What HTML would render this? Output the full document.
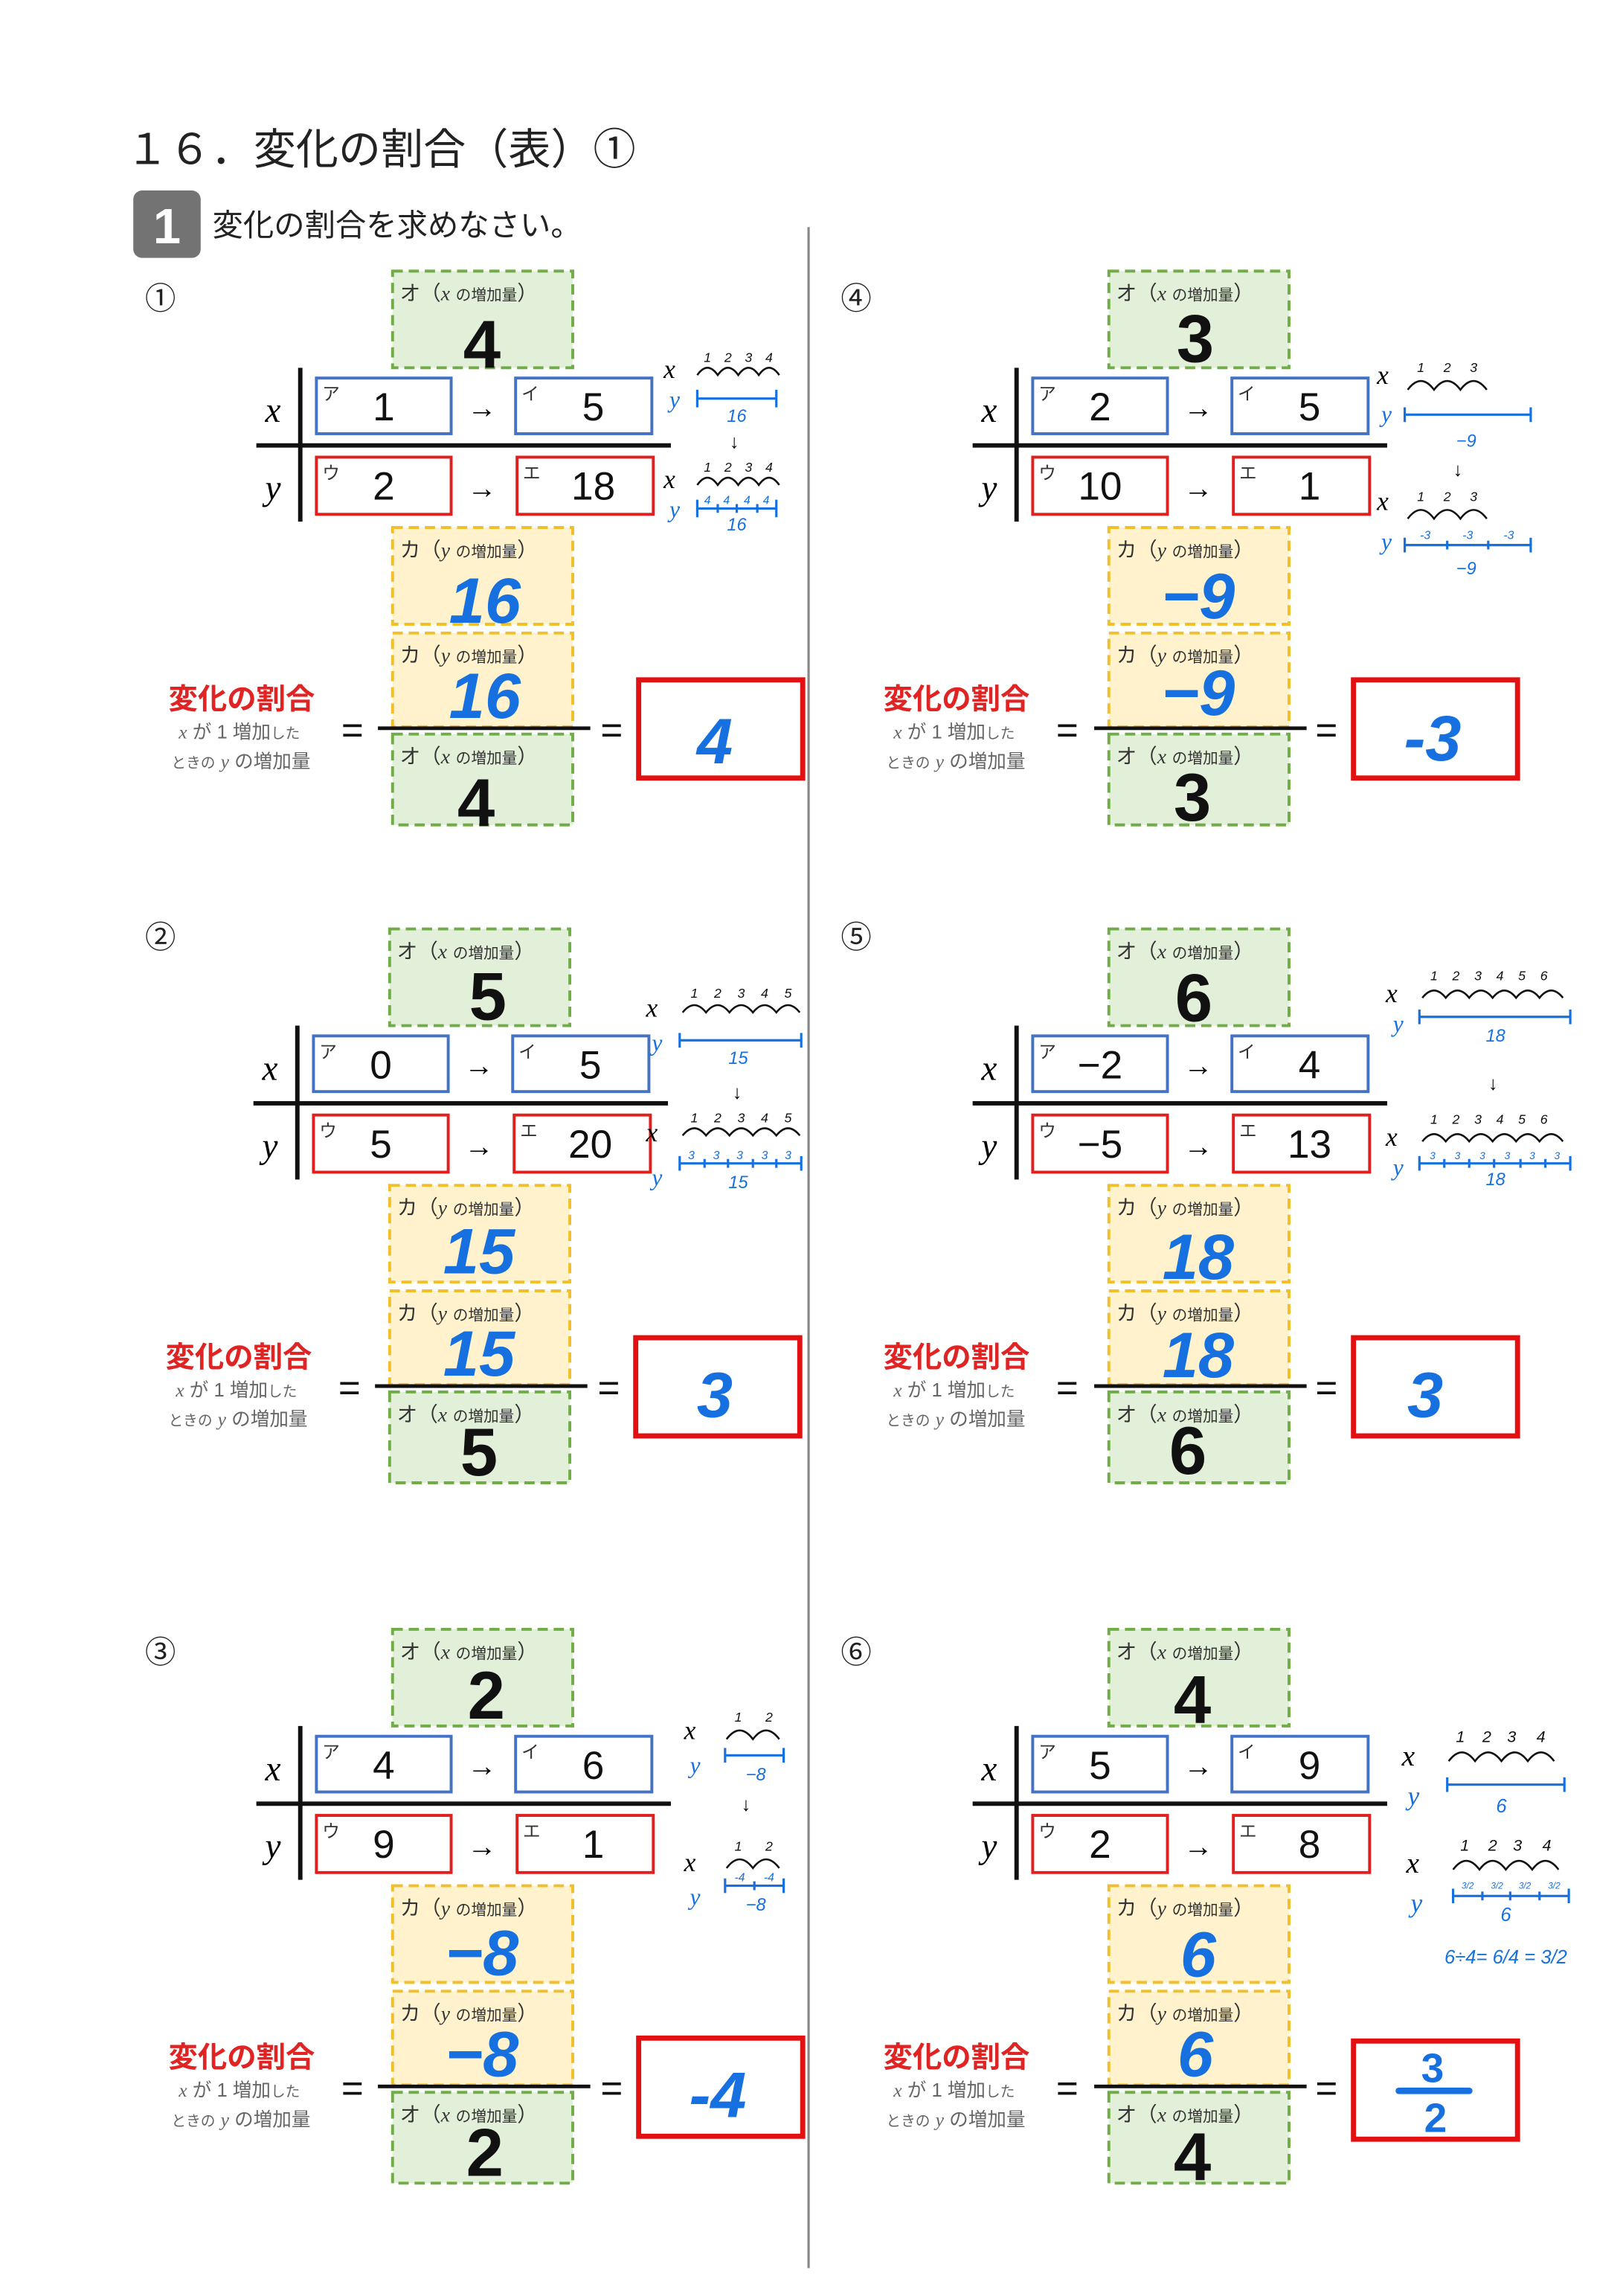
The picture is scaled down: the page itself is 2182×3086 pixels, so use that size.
<!DOCTYPE html>
<html><head><meta charset="utf-8"><style>
html,body{margin:0;padding:0;background:#fff}
svg{display:block;font-size:12px}
text{font-family:"Liberation Sans","Noto Sans CJK JP",sans-serif}
.it{font-family:"Liberation Serif","Noto Serif CJK SC",serif;font-style:italic}
.g{fill:#e2efd9;stroke:#70ad47;stroke-width:2;stroke-dasharray:7,4}
.yb{fill:#fff2cc;stroke:#f1bf2a;stroke-width:2;stroke-dasharray:7,4}
.bl{fill:#fff;stroke:#4472c4;stroke-width:2}
.rd{fill:#fff;stroke:#e21f1f;stroke-width:2}
.ans{fill:#fff;stroke:#e21010;stroke-width:3.5}
.hb{font-weight:bold;font-size:46px;fill:#111;text-anchor:middle}
.hu{font-weight:bold;fill:#1670e0;text-anchor:middle;font-style:italic}
.hu:not([font-size]){font-size:44px}
.lab{font-size:14px;fill:#333}
.sm{font-size:10.5px}
.val{font-size:27px;fill:#111;text-anchor:middle}
.kn{font-size:12px;fill:#333}
.red{font-size:20px;fill:#e02424;font-weight:bold}
.sub{font-size:13px;fill:#666}
.eq{font-size:26px;fill:#111}
.ln{stroke:#111;stroke-width:3}
.bline{stroke:#1670e0;stroke-width:1.6;fill:none}
.arc{stroke:#111;stroke-width:1.3;fill:none}
.bt{fill:#1670e0;font-style:italic;text-anchor:middle}
.kt{fill:#111;font-style:italic;text-anchor:middle}
.kt:not([font-size]){font-size:9px}
</style></head><body>
<svg width="2182" height="3086" viewBox="0 0 1108 1567" xmlns="http://www.w3.org/2000/svg">
<text x="86" y="112" font-size="29" fill="#222">１６．変化の割合（表）①</text>
<rect x="91" y="130" width="46" height="46" rx="6" fill="#737373"/>
<text x="114" y="166" font-size="34" font-weight="bold" fill="#fff" text-anchor="middle">1</text>
<text x="145" y="161" font-size="21" fill="#222">変化の割合を求めなさい。</text>
<line x1="552" y1="155" x2="552" y2="1548" stroke="#888" stroke-width="1.6"/>

<!-- PANEL 1 -->
<g transform="translate(0,0)">
<text x="99" y="211" font-size="21" fill="#222">①</text>
<rect class="g" x="268" y="185" width="123" height="66"/>
<text class="lab" x="273" y="205">オ（<tspan class="it">x</tspan> <tspan class="sm">の増加量</tspan>）</text>
<text class="hb" x="329" y="251">4</text>
<line class="ln" x1="205" y1="251" x2="205" y2="356"/><line class="ln" x1="175" y1="304" x2="458" y2="304"/>
<text class="it" x="181" y="288" font-size="24">x</text><text class="it" x="181" y="341" font-size="24">y</text>
<rect class="bl" x="216" y="258" width="92" height="38"/><text class="kn" x="220" y="273">ア</text><text class="val" x="262" y="287">1</text>
<text x="319" y="285" font-size="20">→</text>
<rect class="bl" x="352" y="258" width="93" height="38"/><text class="kn" x="356" y="273">イ</text><text class="val" x="405" y="287">5</text>
<rect class="rd" x="216" y="312" width="92" height="39"/><text class="kn" x="220" y="327">ウ</text><text class="val" x="262" y="341">2</text>
<text x="319" y="340" font-size="20">→</text>
<rect class="rd" x="353" y="312" width="93" height="39"/><text class="kn" x="357" y="327">エ</text><text class="val" x="405" y="341">18</text>
<rect class="yb" x="268" y="360" width="123" height="66"/>
<text class="lab" x="273" y="380">カ（<tspan class="it">y</tspan> <tspan class="sm">の増加量</tspan>）</text>
<text class="hu" x="331" y="425">16</text>
<rect class="yb" x="268" y="432" width="123" height="64"/>
<text class="lab" x="273" y="452">カ（<tspan class="it">y</tspan> <tspan class="sm">の増加量</tspan>）</text>
<text class="hu" x="331" y="490">16</text>
<line x1="258" y1="497" x2="403" y2="497" stroke="#111" stroke-width="2.5"/>
<rect class="g" x="268" y="501" width="123" height="62"/>
<text class="lab" x="273" y="521">オ（<tspan class="it">x</tspan> <tspan class="sm">の増加量</tspan>）</text>
<text class="hb" x="325" y="564">4</text>
<text class="red" x="115" y="484">変化の割合</text>
<text class="sub" x="122" y="504"><tspan class="it">x</tspan> が 1 増加<tspan font-size="10">した</tspan></text>
<text class="sub" x="117" y="524"><tspan font-size="10">ときの</tspan> <tspan class="it">y</tspan> の増加量</text>
<text class="eq" x="233" y="507">=</text><text class="eq" x="410" y="507">=</text>
<rect class="ans" x="436" y="464" width="112" height="67"/>
<text class="hu" x="488" y="521">4</text>
<text class="it" x="453" y="258" font-size="18">x</text>
<path class="arc" d="M476 256 q7-10 14 0 q7-10 14 0 q7-10 14 0 q7-10 14 0"/>
<text class="kt" x="483" y="247">1</text><text class="kt" x="497" y="247">2</text><text class="kt" x="511" y="247">3</text><text class="kt" x="525" y="247">4</text>
<text class="it" x="457" y="278" font-size="16" fill="#1670e0">y</text>
<path class="bline" d="M476 266 v12 M476 272 H530 M530 266 v12"/><text class="bt" x="503" y="288">16</text>
<text x="498" y="306" font-size="13">↓</text>
<text class="it" x="453" y="333" font-size="18">x</text>
<path class="arc" d="M476 331 q7-10 14 0 q7-10 14 0 q7-10 14 0 q7-10 14 0"/>
<text class="kt" x="483" y="322">1</text><text class="kt" x="497" y="322">2</text><text class="kt" x="511" y="322">3</text><text class="kt" x="525" y="322">4</text>
<text class="it" x="457" y="353" font-size="16" fill="#1670e0">y</text>
<path class="bline" d="M476 341 v12 M476 347 H530 M530 341 v12 M490 344 v6 M503 344 v6 M517 344 v6"/>
<text class="bt" x="483" y="344" font-size="8">4</text><text class="bt" x="496" y="344" font-size="8">4</text><text class="bt" x="510" y="344" font-size="8">4</text><text class="bt" x="523" y="344" font-size="8">4</text>
<text class="bt" x="503" y="362">16</text>
</g>

<!-- PANEL 4 -->
<g transform="translate(489,0)">
<text x="85" y="211" font-size="21" fill="#222">④</text>
<rect class="g" x="268" y="185" width="123" height="66"/>
<text class="lab" x="273" y="205">オ（<tspan class="it">x</tspan> <tspan class="sm">の増加量</tspan>）</text>
<text class="hb" x="327" y="247">3</text>
<line class="ln" x1="205" y1="251" x2="205" y2="356"/><line class="ln" x1="175" y1="304" x2="458" y2="304"/>
<text class="it" x="181" y="288" font-size="24">x</text><text class="it" x="181" y="341" font-size="24">y</text>
<rect class="bl" x="216" y="258" width="92" height="38"/><text class="kn" x="220" y="273">ア</text><text class="val" x="262" y="287">2</text>
<text x="319" y="285" font-size="20">→</text>
<rect class="bl" x="352" y="258" width="93" height="38"/><text class="kn" x="356" y="273">イ</text><text class="val" x="405" y="287">5</text>
<rect class="rd" x="216" y="312" width="92" height="39"/><text class="kn" x="220" y="327">ウ</text><text class="val" x="262" y="341">10</text>
<text x="319" y="340" font-size="20">→</text>
<rect class="rd" x="353" y="312" width="93" height="39"/><text class="kn" x="357" y="327">エ</text><text class="val" x="405" y="341">1</text>
<rect class="yb" x="268" y="360" width="123" height="66"/>
<text class="lab" x="273" y="380">カ（<tspan class="it">y</tspan> <tspan class="sm">の増加量</tspan>）</text>
<text class="hu" x="329" y="422">−9</text>
<rect class="yb" x="268" y="432" width="123" height="64"/>
<text class="lab" x="273" y="452">カ（<tspan class="it">y</tspan> <tspan class="sm">の増加量</tspan>）</text>
<text class="hu" x="329" y="488">−9</text>
<line x1="258" y1="497" x2="403" y2="497" stroke="#111" stroke-width="2.5"/>
<rect class="g" x="268" y="501" width="123" height="62"/>
<text class="lab" x="273" y="521">オ（<tspan class="it">x</tspan> <tspan class="sm">の増加量</tspan>）</text>
<text class="hb" x="325" y="560">3</text>
<text class="red" x="114" y="484">変化の割合</text>
<text class="sub" x="121" y="504"><tspan class="it">x</tspan> が 1 増加<tspan font-size="10">した</tspan></text>
<text class="sub" x="116" y="524"><tspan font-size="10">ときの</tspan> <tspan class="it">y</tspan> の増加量</text>
<text class="eq" x="232" y="507">=</text><text class="eq" x="409" y="507">=</text>
<rect class="ans" x="435" y="464" width="112" height="67"/>
<text class="hu" x="489" y="519">-3</text>
<text class="it" x="451" y="262" font-size="18">x</text>
<path class="arc" d="M472 266 q9-12 18 0 q9-12 18 0 q9-12 18 0"/>
<text class="kt" x="481" y="254">1</text><text class="kt" x="499" y="254">2</text><text class="kt" x="517" y="254">3</text>
<text class="it" x="454" y="288" font-size="16" fill="#1670e0">y</text>
<path class="bline" d="M470 278 v10 M470 283 H556 M556 278 v10"/><text class="bt" x="512" y="305">−9</text>
<text x="503" y="325" font-size="13">↓</text>
<text class="it" x="451" y="348" font-size="18">x</text>
<path class="arc" d="M472 354 q9-12 18 0 q9-12 18 0 q9-12 18 0"/>
<text class="kt" x="481" y="342">1</text><text class="kt" x="499" y="342">2</text><text class="kt" x="517" y="342">3</text>
<text class="it" x="454" y="375" font-size="16" fill="#1670e0">y</text>
<path class="bline" d="M470 367 v10 M470 372 H556 M556 367 v10 M499 369 v6 M527 369 v6"/>
<text class="bt" x="484" y="368" font-size="8">-3</text><text class="bt" x="513" y="368" font-size="8">-3</text><text class="bt" x="541" y="368" font-size="8">-3</text>
<text class="bt" x="512" y="392">−9</text>
</g>

<!-- PANEL 2 -->
<g transform="translate(-2,449)">
<text x="101" y="198" font-size="21" fill="#222">②</text>
<rect class="g" x="268" y="185" width="123" height="66"/>
<text class="lab" x="273" y="205">オ（<tspan class="it">x</tspan> <tspan class="sm">の増加量</tspan>）</text>
<text class="hb" x="335" y="247">5</text>
<line class="ln" x1="205" y1="251" x2="205" y2="356"/><line class="ln" x1="175" y1="304" x2="458" y2="304"/>
<text class="it" x="181" y="288" font-size="24">x</text><text class="it" x="181" y="341" font-size="24">y</text>
<rect class="bl" x="216" y="258" width="92" height="38"/><text class="kn" x="220" y="273">ア</text><text class="val" x="262" y="287">0</text>
<text x="319" y="285" font-size="20">→</text>
<rect class="bl" x="352" y="258" width="93" height="38"/><text class="kn" x="356" y="273">イ</text><text class="val" x="405" y="287">5</text>
<rect class="rd" x="216" y="312" width="92" height="39"/><text class="kn" x="220" y="327">ウ</text><text class="val" x="262" y="341">5</text>
<text x="319" y="340" font-size="20">→</text>
<rect class="rd" x="353" y="312" width="93" height="39"/><text class="kn" x="357" y="327">エ</text><text class="val" x="405" y="341">20</text>
<rect class="yb" x="268" y="360" width="123" height="66"/>
<text class="lab" x="273" y="380">カ（<tspan class="it">y</tspan> <tspan class="sm">の増加量</tspan>）</text>
<text class="hu" x="329" y="420">15</text>
<rect class="yb" x="268" y="432" width="123" height="64"/>
<text class="lab" x="273" y="452">カ（<tspan class="it">y</tspan> <tspan class="sm">の増加量</tspan>）</text>
<text class="hu" x="329" y="490">15</text>
<line x1="258" y1="497" x2="403" y2="497" stroke="#111" stroke-width="2.5"/>
<rect class="g" x="268" y="501" width="123" height="62"/>
<text class="lab" x="273" y="521">オ（<tspan class="it">x</tspan> <tspan class="sm">の増加量</tspan>）</text>
<text class="hb" x="329" y="558">5</text>
<text class="red" x="115" y="484">変化の割合</text>
<text class="sub" x="122" y="504"><tspan class="it">x</tspan> が 1 増加<tspan font-size="10">した</tspan></text>
<text class="sub" x="117" y="524"><tspan font-size="10">ときの</tspan> <tspan class="it">y</tspan> の増加量</text>
<text class="eq" x="233" y="507">=</text><text class="eq" x="410" y="507">=</text>
<rect class="ans" x="436" y="464" width="112" height="67"/>
<text class="hu" x="490" y="518">3</text>
<text class="it" x="443" y="245" font-size="18">x</text>
<path class="arc" d="M468 242 q8-10 16 0 q8-10 16 0 q8-10 16 0 q8-10 16 0 q8-10 16 0"/>
<text class="kt" x="476" y="232">1</text><text class="kt" x="492" y="232">2</text><text class="kt" x="508" y="232">3</text><text class="kt" x="524" y="232">4</text><text class="kt" x="540" y="232">5</text>
<text class="it" x="447" y="268" font-size="16" fill="#1670e0">y</text>
<path class="bline" d="M466 256 v10 M466 261 H549 M549 256 v10"/><text class="bt" x="506" y="277">15</text>
<text x="502" y="301" font-size="13">↓</text>
<text class="it" x="443" y="330" font-size="18">x</text>
<path class="arc" d="M468 326 q8-10 16 0 q8-10 16 0 q8-10 16 0 q8-10 16 0 q8-10 16 0"/>
<text class="kt" x="476" y="317">1</text><text class="kt" x="492" y="317">2</text><text class="kt" x="508" y="317">3</text><text class="kt" x="524" y="317">4</text><text class="kt" x="540" y="317">5</text>
<text class="it" x="447" y="360" font-size="16" fill="#1670e0">y</text>
<path class="bline" d="M466 340 v10 M466 345 H549 M549 340 v10 M483 342 v6 M499 342 v6 M516 342 v6 M532 342 v6"/>
<text class="bt" x="474" y="342" font-size="8">3</text><text class="bt" x="491" y="342" font-size="8">3</text><text class="bt" x="507" y="342" font-size="8">3</text><text class="bt" x="524" y="342" font-size="8">3</text><text class="bt" x="540" y="342" font-size="8">3</text>
<text class="bt" x="506" y="362">15</text>
</g>

<!-- PANEL 5 -->
<g transform="translate(489,449)">
<text x="85" y="198" font-size="21" fill="#222">⑤</text>
<rect class="g" x="268" y="185" width="123" height="66"/>
<text class="lab" x="273" y="205">オ（<tspan class="it">x</tspan> <tspan class="sm">の増加量</tspan>）</text>
<text class="hb" x="326" y="248">6</text>
<line class="ln" x1="205" y1="251" x2="205" y2="356"/><line class="ln" x1="175" y1="304" x2="458" y2="304"/>
<text class="it" x="181" y="288" font-size="24">x</text><text class="it" x="181" y="341" font-size="24">y</text>
<rect class="bl" x="216" y="258" width="92" height="38"/><text class="kn" x="220" y="273">ア</text><text class="val" x="262" y="287">−2</text>
<text x="319" y="285" font-size="20">→</text>
<rect class="bl" x="352" y="258" width="93" height="38"/><text class="kn" x="356" y="273">イ</text><text class="val" x="405" y="287">4</text>
<rect class="rd" x="216" y="312" width="92" height="39"/><text class="kn" x="220" y="327">ウ</text><text class="val" x="262" y="341">−5</text>
<text x="319" y="340" font-size="20">→</text>
<rect class="rd" x="353" y="312" width="93" height="39"/><text class="kn" x="357" y="327">エ</text><text class="val" x="405" y="341">13</text>
<rect class="yb" x="268" y="360" width="123" height="66"/>
<text class="lab" x="273" y="380">カ（<tspan class="it">y</tspan> <tspan class="sm">の増加量</tspan>）</text>
<text class="hu" x="329" y="424">18</text>
<rect class="yb" x="268" y="432" width="123" height="64"/>
<text class="lab" x="273" y="452">カ（<tspan class="it">y</tspan> <tspan class="sm">の増加量</tspan>）</text>
<text class="hu" x="329" y="491">18</text>
<line x1="258" y1="497" x2="403" y2="497" stroke="#111" stroke-width="2.5"/>
<rect class="g" x="268" y="501" width="123" height="62"/>
<text class="lab" x="273" y="521">オ（<tspan class="it">x</tspan> <tspan class="sm">の増加量</tspan>）</text>
<text class="hb" x="322" y="557">6</text>
<text class="red" x="114" y="484">変化の割合</text>
<text class="sub" x="121" y="504"><tspan class="it">x</tspan> が 1 増加<tspan font-size="10">した</tspan></text>
<text class="sub" x="116" y="524"><tspan font-size="10">ときの</tspan> <tspan class="it">y</tspan> の増加量</text>
<text class="eq" x="232" y="507">=</text><text class="eq" x="409" y="507">=</text>
<rect class="ans" x="435" y="464" width="112" height="67"/>
<text class="hu" x="484" y="518">3</text>
<text class="it" x="457" y="235" font-size="18">x</text>
<path class="arc" d="M482 232 q8-10 16 0 q8-10 16 0 q8-10 16 0 q8-10 16 0 q8-10 16 0 q8-10 16 0"/>
<text class="kt" x="490" y="220">1</text><text class="kt" x="505" y="220">2</text><text class="kt" x="520" y="220">3</text><text class="kt" x="535" y="220">4</text><text class="kt" x="550" y="220">5</text><text class="kt" x="565" y="220">6</text>
<text class="it" x="462" y="255" font-size="16" fill="#1670e0">y</text>
<path class="bline" d="M480 240 v10 M480 245 H583 M583 240 v10"/><text class="bt" x="532" y="262">18</text>
<text x="527" y="295" font-size="13">↓</text>
<text class="it" x="457" y="333" font-size="18">x</text>
<path class="arc" d="M482 330 q8-10 16 0 q8-10 16 0 q8-10 16 0 q8-10 16 0 q8-10 16 0 q8-10 16 0"/>
<text class="kt" x="490" y="318">1</text><text class="kt" x="505" y="318">2</text><text class="kt" x="520" y="318">3</text><text class="kt" x="535" y="318">4</text><text class="kt" x="550" y="318">5</text><text class="kt" x="565" y="318">6</text>
<text class="it" x="462" y="353" font-size="16" fill="#1670e0">y</text>
<path class="bline" d="M480 340 v10 M480 345 H583 M583 340 v10 M497 342 v6 M514 342 v6 M531 342 v6 M549 342 v6 M566 342 v6"/>
<text class="bt" x="489" y="342" font-size="7">3</text><text class="bt" x="506" y="342" font-size="7">3</text><text class="bt" x="523" y="342" font-size="7">3</text><text class="bt" x="540" y="342" font-size="7">3</text><text class="bt" x="557" y="342" font-size="7">3</text><text class="bt" x="574" y="342" font-size="7">3</text>
<text class="bt" x="532" y="360">18</text>
</g>

<!-- PANEL 3 -->
<g transform="translate(0,927)">
<text x="99" y="208" font-size="21" fill="#222">③</text>
<rect class="g" x="268" y="185" width="123" height="66"/>
<text class="lab" x="273" y="205">オ（<tspan class="it">x</tspan> <tspan class="sm">の増加量</tspan>）</text>
<text class="hb" x="332" y="246">2</text>
<line class="ln" x1="205" y1="251" x2="205" y2="356"/><line class="ln" x1="175" y1="304" x2="458" y2="304"/>
<text class="it" x="181" y="288" font-size="24">x</text><text class="it" x="181" y="341" font-size="24">y</text>
<rect class="bl" x="216" y="258" width="92" height="38"/><text class="kn" x="220" y="273">ア</text><text class="val" x="262" y="287">4</text>
<text x="319" y="285" font-size="20">→</text>
<rect class="bl" x="352" y="258" width="93" height="38"/><text class="kn" x="356" y="273">イ</text><text class="val" x="405" y="287">6</text>
<rect class="rd" x="216" y="312" width="92" height="39"/><text class="kn" x="220" y="327">ウ</text><text class="val" x="262" y="341">9</text>
<text x="319" y="340" font-size="20">→</text>
<rect class="rd" x="353" y="312" width="93" height="39"/><text class="kn" x="357" y="327">エ</text><text class="val" x="405" y="341">1</text>
<rect class="yb" x="268" y="360" width="123" height="66"/>
<text class="lab" x="273" y="380">カ（<tspan class="it">y</tspan> <tspan class="sm">の増加量</tspan>）</text>
<text class="hu" x="329" y="421">−8</text>
<rect class="yb" x="268" y="432" width="123" height="64"/>
<text class="lab" x="273" y="452">カ（<tspan class="it">y</tspan> <tspan class="sm">の増加量</tspan>）</text>
<text class="hu" x="329" y="490">−8</text>
<line x1="258" y1="497" x2="403" y2="497" stroke="#111" stroke-width="2.5"/>
<rect class="g" x="268" y="501" width="123" height="62"/>
<text class="lab" x="273" y="521">オ（<tspan class="it">x</tspan> <tspan class="sm">の増加量</tspan>）</text>
<text class="hb" x="331" y="558">2</text>
<text class="red" x="115" y="484">変化の割合</text>
<text class="sub" x="122" y="504"><tspan class="it">x</tspan> が 1 増加<tspan font-size="10">した</tspan></text>
<text class="sub" x="117" y="524"><tspan font-size="10">ときの</tspan> <tspan class="it">y</tspan> の増加量</text>
<text class="eq" x="233" y="507">=</text><text class="eq" x="410" y="507">=</text>
<rect class="ans" x="436" y="464" width="112" height="67"/>
<text class="hu" x="490" y="518">-4</text>
<text class="it" x="467" y="260" font-size="18">x</text>
<path class="arc" d="M496 260 q9-12 18 0 q9-12 18 0"/>
<text class="kt" x="504" y="248">1</text><text class="kt" x="525" y="248">2</text>
<text class="it" x="471" y="283" font-size="16" fill="#1670e0">y</text>
<path class="bline" d="M495 266 v10 M495 271 H535 M535 266 v10"/><text class="bt" x="516" y="288">−8</text>
<text x="506" y="309" font-size="13">↓</text>
<text class="it" x="467" y="350" font-size="18">x</text>
<path class="arc" d="M496 348 q9-12 18 0 q9-12 18 0"/>
<text class="kt" x="504" y="336">1</text><text class="kt" x="525" y="336">2</text>
<text class="it" x="471" y="373" font-size="16" fill="#1670e0">y</text>
<path class="bline" d="M495 355 v10 M495 360 H535 M535 355 v10 M515 357 v6"/>
<text class="bt" x="505" y="357" font-size="8">-4</text><text class="bt" x="525" y="357" font-size="8">-4</text>
<text class="bt" x="516" y="377">−8</text>
</g>

<!-- PANEL 6 -->
<g transform="translate(489,927)">
<text x="85" y="208" font-size="21" fill="#222">⑥</text>
<rect class="g" x="268" y="185" width="123" height="66"/>
<text class="lab" x="273" y="205">オ（<tspan class="it">x</tspan> <tspan class="sm">の増加量</tspan>）</text>
<text class="hb" x="325" y="249">4</text>
<line class="ln" x1="205" y1="251" x2="205" y2="356"/><line class="ln" x1="175" y1="304" x2="458" y2="304"/>
<text class="it" x="181" y="288" font-size="24">x</text><text class="it" x="181" y="341" font-size="24">y</text>
<rect class="bl" x="216" y="258" width="92" height="38"/><text class="kn" x="220" y="273">ア</text><text class="val" x="262" y="287">5</text>
<text x="319" y="285" font-size="20">→</text>
<rect class="bl" x="352" y="258" width="93" height="38"/><text class="kn" x="356" y="273">イ</text><text class="val" x="405" y="287">9</text>
<rect class="rd" x="216" y="312" width="92" height="39"/><text class="kn" x="220" y="327">ウ</text><text class="val" x="262" y="341">2</text>
<text x="319" y="340" font-size="20">→</text>
<rect class="rd" x="353" y="312" width="93" height="39"/><text class="kn" x="357" y="327">エ</text><text class="val" x="405" y="341">8</text>
<rect class="yb" x="268" y="360" width="123" height="66"/>
<text class="lab" x="273" y="380">カ（<tspan class="it">y</tspan> <tspan class="sm">の増加量</tspan>）</text>
<text class="hu" x="329" y="422">6</text>
<rect class="yb" x="268" y="432" width="123" height="64"/>
<text class="lab" x="273" y="452">カ（<tspan class="it">y</tspan> <tspan class="sm">の増加量</tspan>）</text>
<text class="hu" x="327" y="490">6</text>
<line x1="258" y1="497" x2="403" y2="497" stroke="#111" stroke-width="2.5"/>
<rect class="g" x="268" y="501" width="123" height="62"/>
<text class="lab" x="273" y="521">オ（<tspan class="it">x</tspan> <tspan class="sm">の増加量</tspan>）</text>
<text class="hb" x="325" y="561">4</text>
<text class="red" x="114" y="484">変化の割合</text>
<text class="sub" x="121" y="504"><tspan class="it">x</tspan> が 1 増加<tspan font-size="10">した</tspan></text>
<text class="sub" x="116" y="524"><tspan font-size="10">ときの</tspan> <tspan class="it">y</tspan> の増加量</text>
<text class="eq" x="232" y="507">=</text><text class="eq" x="409" y="507">=</text>
<rect class="ans" x="435" y="466" width="112" height="67"/>
<text class="hu" x="489" y="494" font-size="28" style="font-style:normal">3</text>
<line x1="466" y1="500" x2="514" y2="500" stroke="#1670e0" stroke-width="4.5" stroke-linecap="round"/>
<text class="hu" x="491" y="528" font-size="28" style="font-style:normal">2</text>
<text class="it" x="468" y="278" font-size="20">x</text>
<path class="arc" d="M500 275 q9-12 18 0 q9-12 18 0 q9-12 18 0 q9-12 18 0"/>
<text class="kt" x="508" y="262" font-size="11">1</text><text class="kt" x="526" y="262" font-size="11">2</text><text class="kt" x="543" y="262" font-size="11">3</text><text class="kt" x="563" y="262" font-size="11">4</text>
<text class="it" x="472" y="305" font-size="18" fill="#1670e0">y</text>
<path class="bline" d="M499 286 v10 M499 291 H579 M579 286 v10"/><text class="bt" x="536" y="310" font-size="13">6</text>
<text class="it" x="471" y="351" font-size="20">x</text>
<path class="arc" d="M503 349 q9-12 18 0 q9-12 18 0 q9-12 18 0 q9-12 18 0"/>
<text class="kt" x="511" y="336" font-size="11">1</text><text class="kt" x="530" y="336" font-size="11">2</text><text class="kt" x="547" y="336" font-size="11">3</text><text class="kt" x="567" y="336" font-size="11">4</text>
<text class="it" x="474" y="378" font-size="18" fill="#1670e0">y</text>
<path class="bline" d="M503 362 v10 M503 367 H582 M582 362 v10 M523 364 v6 M542 364 v6 M562 364 v6"/>
<text class="bt" x="513" y="362" font-size="6">3/2</text><text class="bt" x="533" y="362" font-size="6">3/2</text><text class="bt" x="552" y="362" font-size="6">3/2</text><text class="bt" x="572" y="362" font-size="6">3/2</text>
<text class="bt" x="539" y="384" font-size="13">6</text>
<text class="bt" x="539" y="413" font-size="13">6÷4= 6/4 = 3/2</text>
</g>
</svg>
</body></html>
